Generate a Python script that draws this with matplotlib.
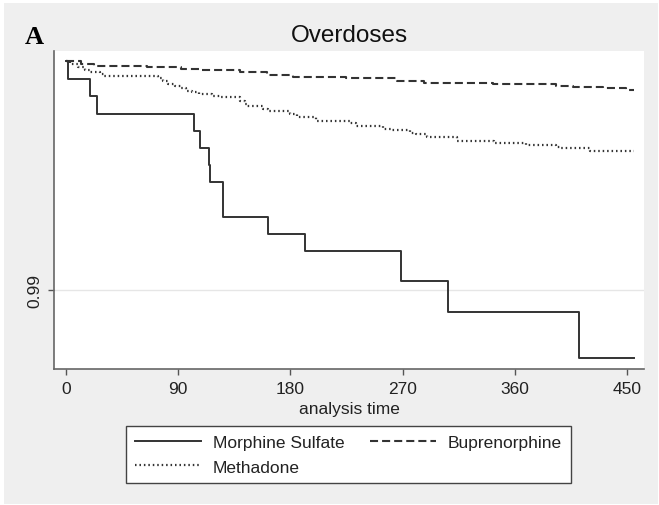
import matplotlib.pyplot as plt
from matplotlib.patches import Rectangle

plt.rcParams['font.family'] = ['Liberation Sans', 'DejaVu Sans']
plt.rcParams['lines.scale_dashes'] = False

# Kaplan-Meier step data: (time of drop, survival after drop)
morphine_t = [0, 1.2, 19.3, 25.2, 102.9, 107.7, 114.9, 115.7, 125.9, 162.1, 192.1,
              268.4, 306.4, 411.4, 455.6]
morphine_s = [1.0, 0.99921, 0.99847, 0.99770, 0.99696, 0.99620, 0.99546, 0.99472,
              0.99319, 0.99245, 0.99170, 0.99041, 0.98905, 0.98703, 0.98703]

bup_t = [0, 12.1, 22.5, 65.1, 92.4, 107.7, 139.8, 161.5, 182.4, 225.0, 265.2, 286.9,
         342.3, 393.0, 406.6, 430.7, 449.2, 455.6]
bup_s = [1.0, 0.99987, 0.99979, 0.99972, 0.99965, 0.99961, 0.99951, 0.99940, 0.99932,
         0.99924, 0.99914, 0.99905, 0.99900, 0.99892, 0.99888, 0.99881, 0.99875, 0.99875]

meth_t = [0, 3.2, 9.6, 15.3, 19.3, 27.3, 30.5, 73.9, 77.9, 82.0, 87.6, 92.4, 96.4,
          101.3, 106.9, 117.3, 123.8, 139.8, 143.8, 145.4, 158.3, 162.3, 180.0, 185.6,
          200.9, 228.2, 233.0, 254.7, 260.4, 275.6, 280.5, 289.3, 313.4, 343.1, 368.9,
          392.9, 396.9, 420.3, 455.6]
meth_s = [1.0, 0.99987, 0.99974, 0.99961, 0.99952, 0.99943, 0.99936, 0.99926, 0.99913,
          0.99900, 0.99891, 0.99882, 0.99870, 0.99865, 0.99858, 0.99847, 0.99841, 0.99825,
          0.99812, 0.99805, 0.99790, 0.99783, 0.99769, 0.99754, 0.99739, 0.99729, 0.99717,
          0.99703, 0.99699, 0.99686, 0.99681, 0.99667, 0.99649, 0.99641, 0.99633, 0.99624,
          0.99620, 0.99608, 0.99608]

x_ticks = [0, 90, 180, 270, 360, 450]
y_ticks = [0.99]

line_col = '#333333'
bg_col = '#efefef'

fig = plt.figure(figsize=(6.59, 5.06), dpi=100, facecolor='white')
fig.patches.append(Rectangle((4 / 659, 1 / 506), 654 / 659, 501 / 506,
                             transform=fig.transFigure, facecolor=bg_col,
                             edgecolor='none', zorder=-5))

ax = fig.add_axes([54 / 659, 1 - 370 / 506, 590 / 659, 318 / 506])
ax.set_facecolor('white')

ax.axhline(0.99, color='#e6e6e6', lw=1.0, zorder=0)

ax.step(morphine_t, morphine_s, where='post', color=line_col, lw=1.4,
        label='Morphine Sulfate')
ax.step(bup_t, bup_s, where='post', color=line_col, lw=1.5, dashes=(5.8, 2.9),
        label='Buprenorphine')
ax.step(meth_t, meth_s, where='post', color=line_col, lw=1.6, dashes=(1.1, 2.1),
        label='Methadone')

ax.set_xlim(-9.64, 463.7)
ax.set_ylim(0.98655, 1.000437)
ax.set_xticks(x_ticks)
ax.set_yticks(y_ticks)
ax.set_yticklabels(['0.99'], rotation=90, va='center')
ax.tick_params(axis='both', labelsize=12.5, length=4.5, width=1, color='#555555',
               labelcolor='#222222')
ax.tick_params(axis='x', pad=4.5)
ax.tick_params(axis='y', pad=4)

for side in ['top', 'right']:
    ax.spines[side].set_visible(False)
for side in ['left', 'bottom']:
    ax.spines[side].set_color('#666666')
    ax.spines[side].set_linewidth(1.2)

ax.set_xlabel('analysis time', fontsize=12.5, color='#222222', labelpad=3.5)
ax.set_title('Overdoses', fontsize=17.5, color='#111111', pad=7)

fig.text(25 / 659, 1 - 37 / 506, 'A', fontsize=19, fontweight='bold',
         family='Liberation Serif', va='center', ha='left')

# legend in the Stata style order: morphine, buprenorphine / methadone
h, l = ax.get_legend_handles_labels()
order = [0, 2, 1]
leg = fig.legend([h[i] for i in order], [l[i] for i in order], ncol=2,
                 loc='upper left', bbox_to_anchor=(126 / 659, 1 - 427 / 506),
                 fontsize=12.5, handlelength=3.8, handletextpad=0.7,
                 columnspacing=1.45, borderpad=0.5, labelspacing=0.55,
                 fancybox=False, framealpha=1, borderaxespad=0)
leg.get_frame().set_edgecolor('#444444')
leg.get_frame().set_linewidth(1.0)
for t in leg.get_texts():
    t.set_color('#222222')

fig.savefig('out.png', dpi=100, facecolor=fig.get_facecolor())
